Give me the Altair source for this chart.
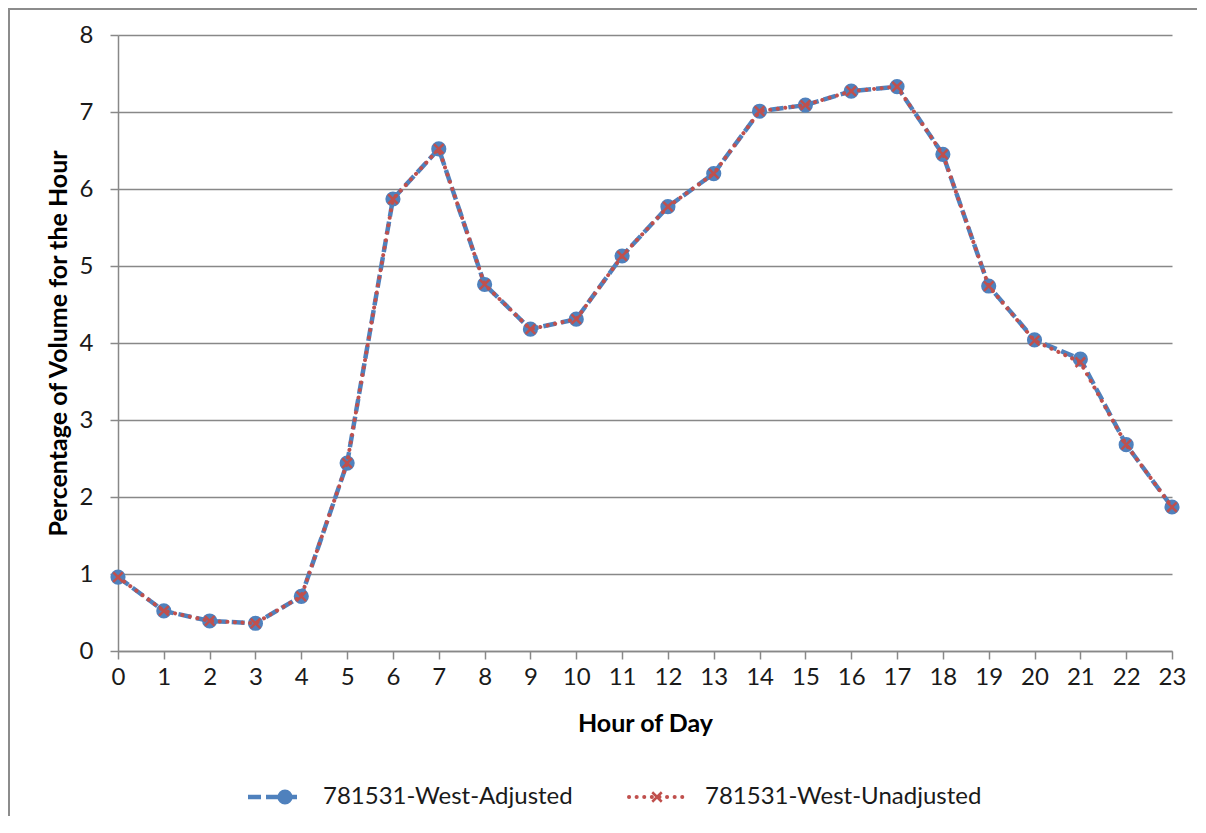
import altair as alt
import pandas as pd

hours = list(range(24))
adjusted = [0.96, 0.52, 0.39, 0.36, 0.71, 2.44, 5.87, 6.52, 4.76, 4.18, 4.31, 5.13,
            5.77, 6.20, 7.01, 7.09, 7.27, 7.33, 6.45, 4.74, 4.04, 3.79, 2.68, 1.87]
unadjusted = [0.96, 0.52, 0.39, 0.36, 0.71, 2.44, 5.87, 6.52, 4.76, 4.18, 4.31, 5.13,
              5.77, 6.20, 7.01, 7.09, 7.27, 7.33, 6.45, 4.74, 4.03, 3.75, 2.68, 1.87]
series_names = ["781531-West-Adjusted", "781531-West-Unadjusted"]

BLUE = "#4F81BD"
RED = "#C0504D"
FONT = "Lato"
W, H = 1054, 616
X_SHAPE = "M-1,-1L1,1M-1,1L1,-1"

df_adj = pd.DataFrame({"Hour": hours, "Pct": adjusted})
df_unadj = pd.DataFrame({"Hour": hours, "Pct": unadjusted})

x_enc = alt.X("Hour:Q",
              scale=alt.Scale(domain=[0, 23], nice=False, zero=False),
              axis=alt.Axis(title="Hour of Day", values=hours, format="d",
                            grid=False, tickSize=8, labelPadding=6,
                            labelFlush=False, labelOverlap=False,
                            titlePadding=22))
y_enc = alt.Y("Pct:Q",
              scale=alt.Scale(domain=[0, 8], nice=False),
              axis=alt.Axis(title="Percentage of Volume for the Hour",
                            values=list(range(9)), format="d", grid=True,
                            tickSize=8, labelPadding=17, titlePadding=8))

# Adjusted series: blue dashed line with round markers
adj_line = alt.Chart(df_adj).mark_line(
    color=BLUE, strokeWidth=4.5, strokeDash=[13, 5]
).encode(x=x_enc, y=y_enc)
adj_pts = alt.Chart(df_adj).mark_point(
    shape="circle", filled=True, color=BLUE, size=230, opacity=1
).encode(x="Hour:Q", y="Pct:Q")

# Unadjusted series: red dotted line with x markers
unadj_line = alt.Chart(df_unadj).mark_line(
    color=RED, strokeWidth=4, strokeDash=[0.1, 7.5], strokeCap="round"
).encode(x="Hour:Q", y="Pct:Q")
unadj_pts = alt.Chart(df_unadj).mark_point(
    shape=X_SHAPE, color=RED, size=90, strokeWidth=2.5, opacity=1
).encode(x="Hour:Q", y="Pct:Q")

# manual legend below the axis title
one = pd.DataFrame({"k": [0]})
leg_y = 762
leg = [
    alt.Chart(one).mark_rule(color=BLUE, strokeWidth=4.5, strokeDash=[13, 5]).encode(
        x=alt.value(130), x2=alt.value(184), y=alt.value(leg_y)),
    alt.Chart(one).mark_point(shape="circle", filled=True, color=BLUE, size=230, opacity=1).encode(
        x=alt.value(167), y=alt.value(leg_y)),
    alt.Chart(one).mark_text(text=series_names[0], align="left", baseline="middle",
                             font=FONT, fontSize=24, color="#1a1a1a").encode(
        x=alt.value(205), y=alt.value(leg_y)),
    alt.Chart(one).mark_rule(color=RED, strokeWidth=4, strokeDash=[0.1, 7.5], strokeCap="round").encode(
        x=alt.value(511), x2=alt.value(567), y=alt.value(leg_y)),
    alt.Chart(one).mark_point(shape=X_SHAPE, color=RED, size=90, strokeWidth=2.5, opacity=1).encode(
        x=alt.value(539), y=alt.value(leg_y)),
    alt.Chart(one).mark_text(text=series_names[1], align="left", baseline="middle",
                             font=FONT, fontSize=24, color="#1a1a1a").encode(
        x=alt.value(587), y=alt.value(leg_y)),
]

# outer chart-area border (left and top edges visible)
border = [
    alt.Chart(one).mark_rule(color="#8c8c8c", strokeWidth=2).encode(
        x=alt.value(-109), y=alt.value(-26), y2=alt.value(H + 165)),
    alt.Chart(one).mark_rule(color="#8c8c8c", strokeWidth=2).encode(
        x=alt.value(-110), x2=alt.value(W + 25), y=alt.value(-26)),
]

chart = alt.layer(adj_line, adj_pts, unadj_line, unadj_pts, *leg, *border).properties(
    width=W, height=H,
    autosize=alt.AutoSizeParams(type="none"),
    padding={"left": 110, "top": 27, "right": 26, "bottom": 165},
    background="white",
).configure_view(
    stroke=None
).configure_axis(
    labelFont=FONT, titleFont=FONT,
    labelFontSize=24, titleFontSize=25,
    labelColor="#1a1a1a", titleColor="#000000",
    titleFontWeight="bold",
    domainColor="#888888", tickColor="#888888", gridColor="#888888",
    domainWidth=1.5, tickWidth=1.5, gridWidth=1.5,
)

chart.save("out.html", embed_options={"renderer": "svg", "actions": False})
